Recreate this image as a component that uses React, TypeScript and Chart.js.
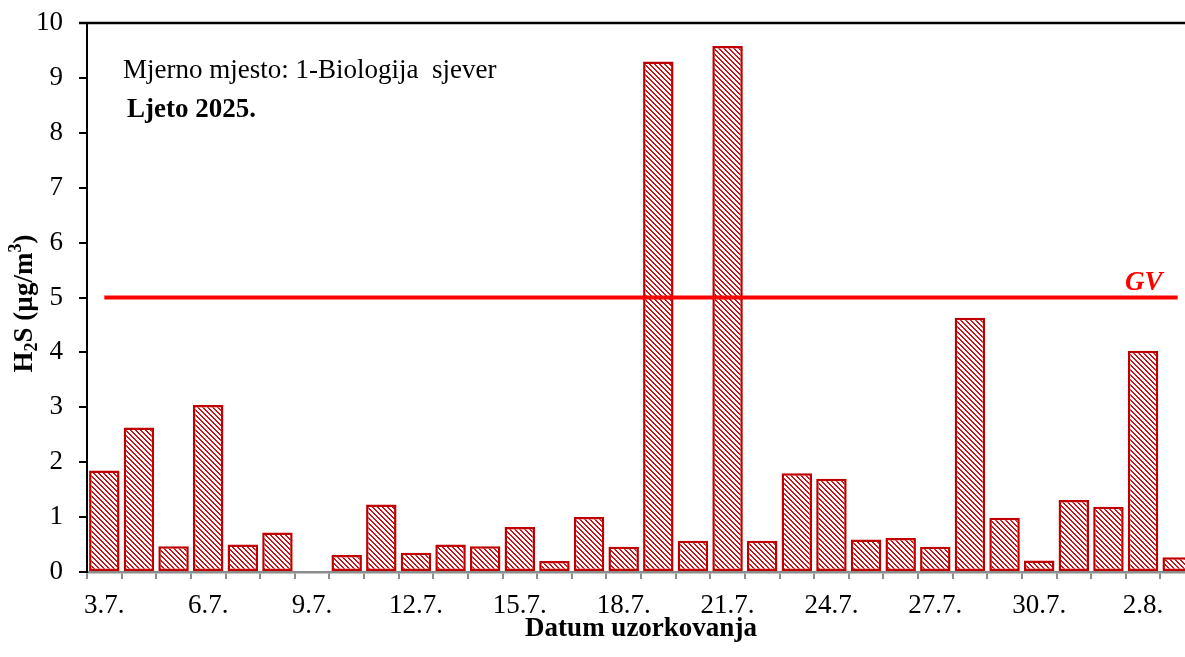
import React, { useEffect, useRef } from "react";
import { Chart, registerables } from "chart.js";

Chart.register(...registerables);

const dates = [
  "3.7.", "4.7.", "5.7.", "6.7.", "7.7.", "8.7.", "9.7.", "10.7.", "11.7.", "12.7.",
  "13.7.", "14.7.", "15.7.", "16.7.", "17.7.", "18.7.", "19.7.", "20.7.", "21.7.", "22.7.",
  "23.7.", "24.7.", "25.7.", "26.7.", "27.7.", "28.7.", "29.7.", "30.7.", "31.7.", "1.8.",
  "2.8.", "3.8.",
];

const h2sValues: (number | null)[] = [
  1.85, 2.63, 0.47, 3.04, 0.5, 0.72, null, 0.31, 1.23, 0.35,
  0.5, 0.47, 0.82, 0.2, 1.0, 0.46, 9.3, 0.57, 9.58, 0.57,
  1.8, 1.7, 0.59, 0.62, 0.46, 4.63, 0.99, 0.21, 1.31, 1.19,
  4.03, 0.27,
];

const gvLimit = 5;
const yTicksMin = 0;
const yTicksMax = 10;

const FONT = "'Liberation Serif', 'Times New Roman', serif";

function makePattern(): CanvasPattern | string {
  const n = 5;
  const c = document.createElement("canvas");
  c.width = n;
  c.height = n;
  const g = c.getContext("2d");
  if (!g) return "#E69999";
  g.fillStyle = "#ffffff";
  g.fillRect(0, 0, n, n);
  g.fillStyle = "#C8141A";
  for (let y = 0; y < n; y++) {
    for (let x = 0; x < n; x++) {
      const d = (((x - y) % n) + n) % n;
      if (d === 0 || d === 1) g.fillRect(x, y, 1, 1);
    }
  }
  const p = g.createPattern(c, "repeat");
  return p || "#E69999";
}

const overlayPlugin = {
  id: "overlay",
  afterDraw(chart: any) {
    const { ctx, chartArea, scales } = chart;
    ctx.save();
    // top frame line
    ctx.strokeStyle = "#000";
    ctx.lineWidth = 2.5;
    ctx.beginPath();
    ctx.moveTo(chartArea.left - 8, chartArea.top);
    ctx.lineTo(chart.width, chartArea.top);
    ctx.stroke();

    // annotations
    ctx.fillStyle = "#000";
    ctx.textAlign = "left";
    ctx.textBaseline = "alphabetic";
    ctx.font = `27px ${FONT}`;
    ctx.fillText("Mjerno mjesto: 1-Biologija  sjever", 123, 78);
    ctx.font = `bold 27px ${FONT}`;
    ctx.fillText("Ljeto 2025.", 127, 117);

    // GV label
    const gy = scales.y.getPixelForValue(gvLimit);
    ctx.fillStyle = "#FF0000";
    ctx.font = `italic bold 27px ${FONT}`;
    ctx.fillText("GV", 1125, gy - 8);

    // Y axis title with sub/superscript
    const parts = [
      { t: "H", size: 27, dy: 0 },
      { t: "2", size: 18, dy: 5 },
      { t: "S (µg/m", size: 27, dy: 0 },
      { t: "3", size: 18, dy: -11 },
      { t: ")", size: 27, dy: 0 },
    ];
    let total = 0;
    const widths: number[] = [];
    for (const p of parts) {
      ctx.font = `bold ${p.size}px ${FONT}`;
      const w = ctx.measureText(p.t).width;
      widths.push(w);
      total += w;
    }
    ctx.translate(0, 303.5);
    ctx.rotate(-Math.PI / 2);
    ctx.fillStyle = "#000";
    let x = -total / 2;
    parts.forEach((p, i) => {
      ctx.font = `bold ${p.size}px ${FONT}`;
      ctx.fillText(p.t, x, 32 + p.dy);
      x += widths[i];
    });
    ctx.restore();
  },
};

export default function App() {
  const ref = useRef<HTMLCanvasElement | null>(null);

  useEffect(() => {
    if (!ref.current) return;
    const pattern = makePattern();
    const chart = new Chart(ref.current, {
      type: "bar",
      data: {
        labels: dates,
        datasets: [
          {
            type: "line",
            label: "GV",
            data: dates.map(() => gvLimit),
            borderColor: "#FF0000",
            borderWidth: 4,
            pointRadius: 0,
            fill: false,
            order: 0,
          } as any,
          {
            type: "bar",
            label: "H2S",
            data: h2sValues,
            backgroundColor: pattern as any,
            borderColor: "#C00000",
            borderWidth: 2.5,
            borderSkipped: false,
            barPercentage: 0.88,
            categoryPercentage: 1,
            order: 1,
          } as any,
        ],
      },
      options: {
        responsive: false,
        animation: false,
        layout: { padding: { left: 0, top: 23, right: 15, bottom: 0 } },
        plugins: {
          legend: { display: false },
          tooltip: { enabled: false },
        },
        scales: {
          x: {
            offset: true,
            grid: {
              offset: true,
              drawOnChartArea: false,
              drawTicks: true,
              tickLength: 7,
              color: "#8C8C8C",
              lineWidth: 2,
            },
            border: { color: "#8C8C8C", width: 2.5 },
            ticks: {
              autoSkip: false,
              maxRotation: 0,
              minRotation: 0,
              padding: 11,
              color: "#000",
              font: { family: FONT, size: 27 },
              callback: (_v: any, i: number) => (i % 3 === 0 ? dates[i] : ""),
            },
            title: {
              display: true,
              text: "Datum uzorkovanja",
              color: "#000",
              font: { family: FONT, size: 27, weight: "bold" },
              padding: { top: 0, bottom: 12 },
            },
            afterFit: (s: any) => {
              s.height = 85;
              s.paddingLeft = 0;
              s.paddingRight = 0;
            },
          } as any,
          y: {
            min: yTicksMin,
            max: yTicksMax,
            grid: {
              drawOnChartArea: false,
              drawTicks: true,
              tickLength: 8,
              color: "#000",
              lineWidth: 2,
            },
            border: { color: "#000", width: 2 },
            ticks: {
              stepSize: 0.5,
              maxTicksLimit: 30,
              padding: 16,
              color: "#000",
              font: { family: FONT, size: 27 },
              callback: (v: any) => (Number.isInteger(Number(v)) ? String(v) : ""),
            },
            afterFit: (s: any) => {
              s.width = 87;
              s.paddingTop = 0;
              s.paddingBottom = 0;
            },
          } as any,
        },
      },
      plugins: [overlayPlugin],
    });
    return () => chart.destroy();
  }, []);

  return (
    <div
      style={{
        position: "fixed",
        left: 0,
        top: 0,
        width: 1185,
        height: 657,
        overflow: "hidden",
        background: "#fff",
      }}
    >
      <canvas ref={ref} width={1210} height={657} style={{ display: "block" }} />
    </div>
  );
}
